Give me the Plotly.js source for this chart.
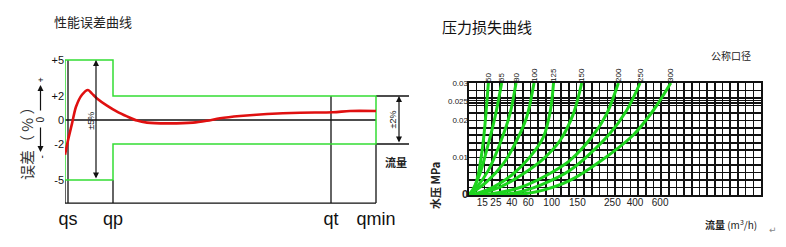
<!DOCTYPE html>
<html>
<head>
<meta charset="utf-8">
<script src="https://cdn.plot.ly/plotly-3.0.1.min.js"></script>
<style>
  html, body { margin: 0; padding: 0; background: #fff; }
  #chart { width: 786px; height: 247px; }
</style>
</head>
<body>
<div id="chart"></div>
<script>
// ---------- 性能误差曲线 (meter error vs flow) ----------
const flowMarks = ['qs', 'qp', 'qt', 'qmin'];
const flowMarkPos = [3, 48, 266, 311];
const errorTicks = [5, 2, 0, -2, -5];
const errorTickText = ['+5', '+2', '0', '-2', '-5'];

// tolerance envelope: ±5 % between qs and qp, ±2 % from qp to qmin
const envFlow = [0, 48, 48, 311, 311, 48, 48, 0, 0];
const envErr = [5, 5, 2, 2, -2, -2, -5, -5, 5];

// measured error curve
const errFlow = [0, 3, 7, 11, 17, 23, 27, 32, 42, 52, 62, 72, 82, 102, 128, 142, 155, 175, 202, 235, 268, 285, 311];
const errPct = [-2.9, -1.7, -0.3, 1.1, 2.1, 2.5, 2.2, 1.8, 1.2, 0.7, 0.3, -0.05, -0.22, -0.28, -0.22, -0.06, 0.14, 0.33, 0.5, 0.61, 0.64, 0.75, 0.75];

// ---------- 压力损失曲线 (pressure loss per nominal size) ----------
const pipeSizes = ['50', '65', '80', '100', '125', '150', '200', '250', '300'];
const flowTickText = ['15', '25', '40', '60', '100', '150', '250', '400', '600'];
const flowTickPos = [1.74, 3.5, 5.56, 7.72, 10.76, 14.1, 18.66, 21.6, 24.87];
const pressTicks = [0, 0.01, 0.02, 0.025, 0.03];
const pressTickText = ['<span style="font-size:11px"><b>0</b></span>', '0.01', '0.02', '0.025', '0.03'];

const q50 = [0, 0.13, 0.56, 1.22, 1.87, 2.52];
const p50 = [0, 0.0002, 0.00125, 0.0057, 0.0146, 0.030];
const q65 = [0, 0.13, 0.56, 1.43, 2.30, 3.39, 4.25];
const p65 = [0, 0.0004, 0.0017, 0.0057, 0.0120, 0.0209, 0.030];
const q80 = [0, 0.13, 1.0, 2.52, 4.04, 5.34, 6.12];
const p80 = [0, 0.0004, 0.0021, 0.0066, 0.0138, 0.0218, 0.030];
const q100 = [0, 0.56, 2.30, 4.47, 6.21, 7.51, 8.46];
const p100 = [0, 0.0008, 0.0035, 0.0084, 0.0146, 0.0209, 0.030];
const q125 = [0, 1.0, 3.17, 5.77, 7.94, 9.68, 10.6, 11.0];
const p125 = [0, 0.0004, 0.0021, 0.0057, 0.0102, 0.0155, 0.0227, 0.030];
const q150 = [0, 1.43, 4.04, 7.07, 9.68, 11.85, 13.59, 14.67];
const p150 = [0, 0.0004, 0.0021, 0.0057, 0.0097, 0.0146, 0.0218, 0.030];
const q200 = [0, 3.17, 6.64, 10.11, 13.15, 16.15, 17.93, 19.44];
const p200 = [0, 0.0004, 0.0020, 0.0053, 0.0093, 0.0160, 0.0218, 0.030];
const q250 = [0, 5.77, 9.24, 13.15, 18.14, 20.53, 22.27];
const p250 = [0, 0.0005, 0.0026, 0.0066, 0.0160, 0.0227, 0.030];
const q300 = [0, 6.64, 9.68, 13.15, 17.27, 21.35, 24.0, 26.26];
const p300 = [0, 0.0002, 0.0013, 0.0039, 0.0093, 0.0160, 0.0227, 0.030];

const lossFlows = [q50, q65, q80, q100, q125, q150, q200, q250, q300];
const lossPress = [p50, p65, p80, p100, p125, p150, p200, p250, p300];

// ---------- page geometry (pixels of the 786 x 247 canvas) ----------
const W = 786, H = 247;
const px = v => v / W;
const py = v => 1 - v / H;
const LATIN = 'Liberation Sans, Arial, sans-serif';
const CJK = 'Noto Sans CJK SC, sans-serif';
const BLACK = '#111';
const GREEN = '#33dd33';
const CURVE_GREEN = '#1ed41e';
const FLOOR = -6.92;          // bottom frame line of the error chart

const traces = [];

traces.push({
  x: envFlow, y: envErr, xaxis: 'x', yaxis: 'y',
  mode: 'lines', line: { color: GREEN, width: 1.5 },
  hoverinfo: 'skip'
});
traces.push({
  x: errFlow, y: errPct, xaxis: 'x', yaxis: 'y',
  mode: 'lines', line: { color: '#e01010', width: 2.6, shape: 'spline', smoothing: 0.8 },
  hoverinfo: 'skip'
});

lossFlows.forEach((q, i) => {
  traces.push({
    x: q, y: lossPress[i], xaxis: 'x2', yaxis: 'y2',
    mode: 'lines', name: pipeSizes[i],
    line: { color: CURVE_GREEN, width: 3, shape: 'spline', smoothing: 0.9 },
    hoverinfo: 'skip'
  });
});
// helper traces so the label axes of the grid are registered
traces.push({ x: [], y: [], xaxis: 'x3', yaxis: 'y2', hoverinfo: 'skip' });
traces.push({ x: [], y: [], xaxis: 'x4', yaxis: 'y2', hoverinfo: 'skip' });
traces.push({ x: [], y: [], xaxis: 'x2', yaxis: 'y3', hoverinfo: 'skip' });

// grid rows every 0.002 MPa plus the double rule around 0.025
const gridRows = [];
for (let i = 0; i <= 15; i++) gridRows.push(+(i * 0.002).toFixed(4));
gridRows.push(0.0246, 0.0253);

const sizeTickPos = lossFlows.map(q => q[q.length - 1]);

const frameLine = (x0, y0, x1, y1) => ({
  type: 'line', xref: 'x', yref: 'y', x0, y0, x1, y1,
  line: { color: BLACK, width: 1.3 }, layer: 'below'
});

const shapes = [
  frameLine(0, 0, 311, 0),
  frameLine(0, FLOOR, 311, FLOOR),
  frameLine(0, -5, 0, FLOOR),
  frameLine(flowMarkPos[0], 5, flowMarkPos[0], FLOOR),
  frameLine(flowMarkPos[1], -5, flowMarkPos[1], FLOOR),
  frameLine(flowMarkPos[2], 2, flowMarkPos[2], FLOOR),
  frameLine(flowMarkPos[3], -2, flowMarkPos[3], FLOOR),
  frameLine(311, 2, 344, 2),
  frameLine(311, -2, 344, -2)
];

const dimArrow = (x, y0, y1) => ({
  xref: 'x', yref: 'y', axref: 'x', ayref: 'y',
  x, y: y0, ax: x, ay: y1, text: '', showarrow: true,
  arrowside: 'end+start', arrowhead: 2, startarrowhead: 2,
  arrowsize: 1, startarrowsize: 1, arrowwidth: 1.2, arrowcolor: BLACK
});

// centred text placed by canvas pixel position
const label = (x, y, text, font, extra) => Object.assign({
  xref: 'paper', yref: 'paper', x: px(x), y: py(y),
  xanchor: 'center', yanchor: 'middle', text, showarrow: false, font
}, extra || {});

const pointer = (x, y, dy) => ({
  xref: 'paper', yref: 'paper', x: px(x), y: py(y), ax: 0, ay: dy, text: '',
  showarrow: true, arrowhead: 2, arrowsize: 1, arrowwidth: 1.2, arrowcolor: BLACK
});

const annotations = [
  // titles
  label(52, 22, '性能误差曲线', { family: CJK, size: 13, color: '#222' }, { xanchor: 'left' }),
  label(440, 26, '压力损失曲线', { family: CJK, size: 15, color: '#111' }, { xanchor: 'left' }),

  // error chart: axis caption and direction indicator
  label(26, 139, '误差（ % ）', { family: CJK, size: 15, color: '#333' }, { textangle: -90 }),
  pointer(40.5, 85, 27),
  pointer(40.5, 152, -26),
  label(40.5, 80, '+', { family: LATIN, size: 9, color: BLACK }, { textangle: -90 }),
  label(40.5, 120, '0', { family: LATIN, size: 10, color: BLACK }, { textangle: -90 }),
  label(40.5, 157, '-', { family: LATIN, size: 10, color: BLACK }, { textangle: -90 }),

  // tolerance dimensions
  dimArrow(31, 5, -5),
  dimArrow(334, 2, -2),
  { xref: 'x', yref: 'y', x: 26.5, y: -0.1, xanchor: 'center', yanchor: 'middle', textangle: -90,
    text: '±5%', showarrow: false, font: { family: LATIN, size: 9, color: BLACK } },
  { xref: 'x', yref: 'y', x: 327.5, y: 0, xanchor: 'center', yanchor: 'middle', textangle: -90,
    text: '±2%', showarrow: false, font: { family: LATIN, size: 9, color: BLACK } },
  label(396, 162, '<b>流量</b>', { family: CJK, size: 11, color: '#222' }),

  // pressure chart captions
  label(731, 55, '公称口径', { family: CJK, size: 10, color: '#222' }),
  label(435, 186, '<b>水压 MPa</b>', { family: CJK, size: 11, color: '#222' }, { textangle: -90 }),
  label(731, 224, '<b>流量</b> (m<sup>3</sup>/h)', { family: CJK, size: 10, color: '#222' }),
  label(773, 230, '↵', { family: 'DejaVu Sans, sans-serif', size: 9, color: '#888' })
];

const noLine = { showline: false, showgrid: false, zeroline: false, ticks: '' };

const layout = {
  width: W, height: H,
  margin: { l: 0, r: 0, t: 0, b: 0, pad: 0 },
  paper_bgcolor: '#fff', plot_bgcolor: 'rgba(0,0,0,0)',
  showlegend: false,
  xaxis: Object.assign({}, noLine, {
    domain: [px(65), px(410)], range: [0, 345], anchor: 'y',
    tickmode: 'array', tickvals: flowMarkPos, ticktext: flowMarks, tickangle: 0,
    tickfont: { family: LATIN, size: 18, color: BLACK }, fixedrange: true
  }),
  yaxis: Object.assign({}, noLine, {
    domain: [py(206), py(58)], range: [-7.1667, 5.1667], anchor: 'x',
    tickmode: 'array', tickvals: errorTicks, ticktext: errorTickText,
    tickfont: { family: LATIN, size: 11, color: BLACK }, fixedrange: true
  }),
  xaxis2: {
    domain: [px(469), px(761)], range: [0, 38], anchor: 'y2',
    tickmode: 'linear', tick0: 0, dtick: 1, showticklabels: false, ticks: '',
    showgrid: true, gridcolor: BLACK, gridwidth: 1.6, zeroline: false,
    showline: true, mirror: true, linecolor: BLACK, linewidth: 1.6
  },
  yaxis2: {
    domain: [py(195), py(83)], range: [0, 0.03], anchor: 'x2',
    tickmode: 'array', tickvals: gridRows, showticklabels: false, ticks: '',
    showgrid: true, gridcolor: BLACK, gridwidth: 1.6, zeroline: false,
    showline: true, mirror: true, linecolor: BLACK, linewidth: 1.6
  },
  xaxis3: Object.assign({}, noLine, {
    overlaying: 'x2', anchor: 'y2', side: 'bottom', range: [0, 38],
    tickmode: 'array', tickvals: flowTickPos, ticktext: flowTickText, tickangle: 0,
    tickfont: { family: LATIN, size: 10, color: '#222' }
  }),
  xaxis4: Object.assign({}, noLine, {
    overlaying: 'x2', anchor: 'y2', side: 'top', range: [0, 38],
    tickmode: 'array', tickvals: sizeTickPos, ticktext: pipeSizes, tickangle: -90,
    tickfont: { family: LATIN, size: 8, color: '#111' }
  }),
  yaxis3: Object.assign({}, noLine, {
    overlaying: 'y2', anchor: 'x2', side: 'left', range: [0, 0.03],
    tickmode: 'array', tickvals: pressTicks, ticktext: pressTickText,
    tickfont: { family: LATIN, size: 8, color: '#222' }
  }),
  shapes, annotations
};

Plotly.newPlot('chart', traces, layout, { staticPlot: true, displayModeBar: false });
</script>
</body>
</html>
